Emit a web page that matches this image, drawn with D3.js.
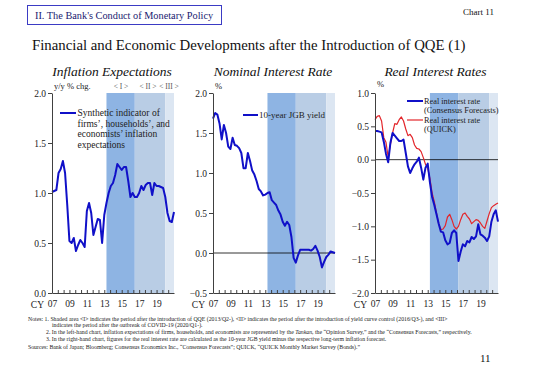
<!DOCTYPE html>
<html><head><meta charset="utf-8">
<script src="https://cdn.jsdelivr.net/npm/d3@7/dist/d3.min.js"></script>
<style>
body{margin:0;background:#fff;}
svg text{font-family:"Liberation Serif","Times New Roman",serif;}
</style></head>
<body>
<svg id="c" width="540" height="368"></svg>
<script>
// ---------------- DATA ----------------
// quarterly observations, 2007Q1 .. 2021Q1
const quarters = d3.range(57).map(i => `${2007 + Math.floor(i / 4)}Q${(i % 4) + 1}`);
const inflationExp = [1.01,1.02,1.03,1.20,1.24,1.32,1.20,0.88,0.52,0.50,0.55,0.42,0.48,0.53,0.50,0.46,
  0.82,0.90,0.80,0.58,0.66,0.74,0.73,0.50,0.78,0.90,1.00,1.07,1.10,1.18,1.29,1.26,1.23,1.26,1.26,1.12,
  0.96,1.00,0.96,0.96,1.00,1.07,1.03,1.08,1.10,1.10,0.98,1.10,1.07,1.07,1.06,1.05,0.96,0.80,0.72,0.71,0.81];
const jgb10y = [1.68,1.75,1.73,1.62,1.42,1.60,1.50,1.33,1.30,1.44,1.35,1.34,1.31,1.25,1.06,1.06,
  1.25,1.15,1.03,0.98,0.90,0.80,0.77,0.72,0.73,0.75,0.76,0.66,0.63,0.60,0.53,0.48,0.39,0.34,0.39,0.35,
  0.20,-0.06,-0.12,-0.03,0.04,0.04,0.04,0.04,0.04,0.03,0.05,0.09,0.03,-0.05,-0.18,-0.11,-0.05,-0.02,0.02,0.01,0.00];
const realConsensus = [0.43,0.43,0.42,0.41,0.27,0.09,-0.04,0.25,0.40,0.36,0.32,0.28,0.28,0.30,0.10,-0.10,
  -0.20,-0.13,-0.07,-0.03,0.03,-0.12,-0.30,-0.12,-0.06,-0.34,-0.56,-0.68,-0.82,-0.96,-1.08,-1.09,-1.21,-1.27,-1.25,-1.10,
  -1.06,-1.10,-1.52,-1.38,-1.27,-1.30,-1.22,-1.24,-1.16,-1.19,-1.15,-0.97,-1.12,-1.14,-1.17,-1.22,-1.15,-0.93,-0.82,-0.76,-0.93];
const realQuick = [0.60,0.65,0.66,0.58,0.33,0.26,0.04,0.22,0.40,0.54,0.53,0.60,0.64,0.58,0.46,0.36,
  0.38,0.33,0.22,0.17,0.16,0.12,0.03,-0.07,-0.13,-0.28,-0.50,-0.63,-0.80,-0.96,-1.05,-1.04,-0.99,-0.86,-0.82,-0.90,
  -1.00,-1.04,-1.00,-0.90,-0.82,-0.80,-0.85,-0.89,-0.96,-0.93,-0.90,-0.91,-0.95,-1.00,-1.03,-0.92,-0.81,-0.72,-0.69,-0.67,-0.65];
const periods = [
  {label:"< I >", start:2013.25, end:2016.5},
  {label:"< II >", start:2016.5, end:2020.0},
  {label:"< III >", start:2020.0, end:2021.0}
];
const yearLabels = ["07","09","11","13","15","17","19"];
const yTicks1 = [0.0,0.5,1.0,1.5,2.0];
const yTicks2 = [-0.5,0.0,0.5,1.0,1.5,2.0];
const yTicks3 = [-2.0,-1.5,-1.0,-0.5,0.0,0.5,1.0];

// ---------------- LAYOUT ----------------
const svg = d3.select("#c");
const plotTop = 93, plotBottom = 293;
const shadeColors = ["#8eb4e3","#b9cde5","#dce6f2"];
const blue = "#1010c8", red = "#e3262b", axisCol = "#404040";
const qTime = q => +q.slice(0,4) + (+q.slice(5) - 1) / 4;

function panel(cfg){
  const x = d3.scaleLinear().domain([2007,2021]).range([cfg.left, cfg.right]);
  const y = d3.scaleLinear().domain(cfg.yDomain).range([plotBottom, plotTop]);
  const g = svg.append("g");
  g.selectAll("rect.shade").data(periods).join("rect")
    .attr("x", d => x(d.start)).attr("width", d => x(d.end) - x(d.start))
    .attr("y", plotTop).attr("height", plotBottom - plotTop)
    .attr("fill", (d,i) => shadeColors[i]);
  if (cfg.zero) {
    g.append("line").attr("x1", cfg.left).attr("x2", cfg.right)
      .attr("y1", y(0)).attr("y2", y(0)).attr("stroke","#000").attr("stroke-width",0.8);
  }
  cfg.series.forEach(s => {
    const line = d3.line().x((d,i) => x(qTime(quarters[i]))).y(d => y(d));
    g.append("path").datum(s.values).attr("d", line)
      .attr("fill","none").attr("stroke", s.color).attr("stroke-width", s.width)
      .attr("stroke-linejoin","round");
  });
  const ya = g.append("g").attr("transform",`translate(${cfg.left},0)`)
    .call(d3.axisLeft(y).tickValues(cfg.yTicks).tickSize(4).tickSizeOuter(0).tickFormat(d3.format(".1f")));
  ya.select(".domain").attr("stroke", axisCol);
  ya.selectAll(".tick line").attr("stroke", axisCol);
  ya.selectAll(".tick text").attr("font-size", 9.5).attr("fill","#222")
    .attr("font-family","Liberation Serif, serif").attr("x",-6);
  const tickVals = d3.range(1,21).map(k => 2007 + k * 2 / 3);
  const xa = g.append("g").attr("transform",`translate(0,${plotBottom})`)
    .call(d3.axisBottom(x).tickValues(tickVals).tickSize(-3).tickSizeOuter(0).tickFormat(""));
  xa.select(".domain").attr("stroke", axisCol);
  xa.selectAll(".tick line").attr("stroke", axisCol);
  const xl = g.append("g").attr("transform",`translate(0,${plotBottom})`)
    .call(d3.axisBottom(x).tickValues(yearLabels.map(l => 2000 + +l)).tickSize(0)
      .tickFormat((d,i) => yearLabels[i]));
  xl.select(".domain").remove();
  xl.selectAll(".tick text").attr("font-size",9.5).attr("fill","#222")
    .attr("font-family","Liberation Serif, serif").attr("y",7.5).attr("dy","0.71em");
  g.append("text").attr("x", cfg.left - 8).attr("y", 307.5).attr("text-anchor","end")
    .attr("font-size",9.5).attr("fill","#222").text("CY");
  g.append("text").attr("x",(cfg.left+cfg.right)/2 - 1).attr("y",76).attr("text-anchor","middle")
    .attr("font-size",13.5).attr("font-style","italic").attr("fill","#111").text(cfg.title);
  g.append("text").attr("x", cfg.left + 2).attr("y", cfg.unitY).attr("font-size",8.5)
    .attr("fill","#222").text(cfg.unit);
  return {g, x, y};
}

const p1 = panel({left:52, right:174, yDomain:[0,2], yTicks:yTicks1, zero:false,
  title:"Inflation Expectations", unit:"y/y % chg.", unitY:89,
  series:[{values:inflationExp, color:blue, width:2}]});
p1.g.selectAll("text.per").data(periods).join("text").attr("class","per")
  .attr("x", (d,i) => [121, 148, 169][i]).attr("y", 89).attr("text-anchor","middle")
  .attr("font-size",7.5).attr("fill","#555").text(d => d.label);
p1.g.append("line").attr("x1",60).attr("x2",76).attr("y1",113).attr("y2",113)
  .attr("stroke",blue).attr("stroke-width",2);
["Synthetic indicator of","firms’, households’, and","economists’ inflation","expectations"].forEach((t,i) => {
  p1.g.append("text").attr("x",77.5).attr("y",116 + i*10.5).attr("font-size",9.5).attr("fill","#222").text(t);
});

const p2 = panel({left:213, right:335, yDomain:[-0.5,2], yTicks:yTicks2, zero:true,
  title:"Nominal Interest Rate", unit:"%", unitY:89,
  series:[{values:jgb10y, color:blue, width:2}]});
p2.g.append("line").attr("x1",243).attr("x2",258).attr("y1",115).attr("y2",115)
  .attr("stroke",blue).attr("stroke-width",2);
p2.g.append("text").attr("x",259).attr("y",118).attr("font-size",9).attr("fill","#222").text("10-year JGB yield");

const p3 = panel({left:375, right:498, yDomain:[-2,1], yTicks:yTicks3, zero:true,
  title:"Real Interest Rates", unit:"%", unitY:87,
  series:[{values:realQuick, color:red, width:1.2},{values:realConsensus, color:blue, width:2}]});
p3.g.append("line").attr("x1",407).attr("x2",423).attr("y1",101).attr("y2",101)
  .attr("stroke",blue).attr("stroke-width",2);
p3.g.append("line").attr("x1",407).attr("x2",423).attr("y1",120).attr("y2",120)
  .attr("stroke",red).attr("stroke-width",1.2);
[["Real interest rate",104],["(Consensus Forecasts)",112.5],["Real interest rate",123],["(QUICK)",131.5]].forEach(([t,yy]) => {
  p3.g.append("text").attr("x",424).attr("y",yy).attr("font-size",8.3).attr("fill","#222").text(t);
});

svg.append("rect").attr("x",27.5).attr("y",5.5).attr("width",194).attr("height",19)
  .attr("fill","#fff").attr("stroke","#3b3bc4").attr("stroke-width",1);
svg.append("text").attr("x",35).attr("y",19).attr("font-size",10.3).attr("fill","#1a1a70")
  .text("II. The Bank's Conduct of Monetary Policy");
svg.append("text").attr("x",463).attr("y",15).attr("font-size",9).attr("fill","#111").text("Chart 11");
svg.append("text").attr("x",32).attr("y",50).attr("font-size",14.8).attr("fill","#111")
  .text("Financial and Economic Developments after the Introduction of QQE (1)");

const notes = [
  {x:28, y:320.5, t:"Notes: 1. Shaded area <I> indicates the period after the introduction of QQE (2013/Q2-), <II> indicates the period after the introduction of yield curve control (2016/Q3-), and <III>"},
  {x:52, y:327, t:"indicates the period after the outbreak of COVID-19 (2020/Q1-)."},
  {x:46, y:334, t:null},
  {x:46, y:341, t:"3. In the right-hand chart, figures for the real interest rate are calculated as the 10-year JGB yield minus the respective long-term inflation forecast."},
  {x:28, y:348.5, t:"Sources: Bank of Japan; Bloomberg; Consensus Economics Inc., \u201cConsensus Forecasts\u201d; QUICK, \u201cQUICK Monthly Market Survey (Bonds).\u201d"}
];
notes.forEach(n => {
  const t = svg.append("text").attr("x",n.x).attr("y",n.y).attr("font-size",5.8).attr("fill","#222");
  if (n.t) t.text(n.t);
  else {
    t.append("tspan").text("2. In the left-hand chart, inflation expectations of firms, households, and economists are represented by the ");
    t.append("tspan").attr("font-style","italic").text("Tankan");
    t.append("tspan").text(", the \u201cOpinion Survey,\u201d and the \u201cConsensus Forecasts,\u201d respectively.");
  }
});
svg.append("text").attr("x",480).attr("y",362).attr("font-size",11).attr("fill","#111").text("11");
</script>
</body></html>
